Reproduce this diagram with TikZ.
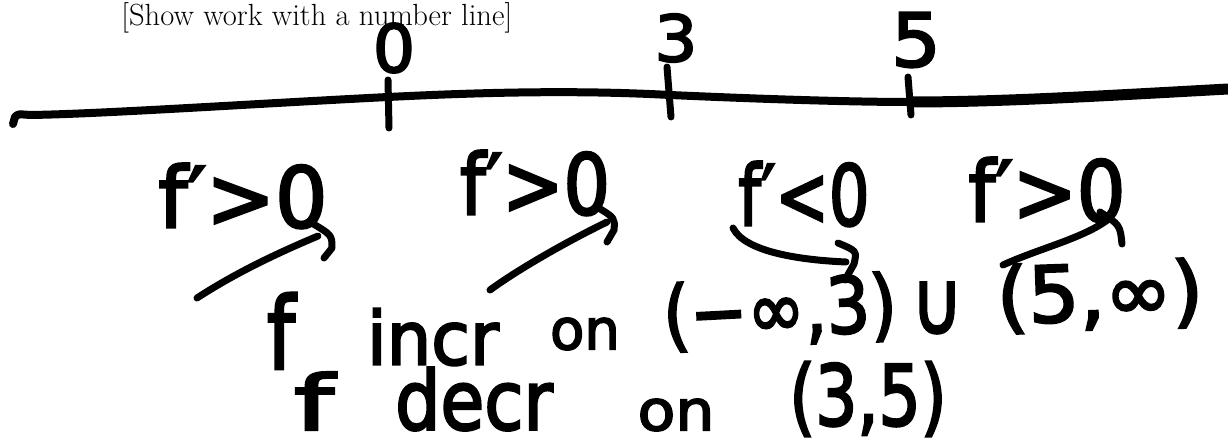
\documentclass[tikz,border=0pt]{standalone}
\usepackage{fontspec}
\newfontfamily\hand[FakeBold=3]{DejaVu Sans}
\newcommand{\hw}[3]{{\hand\fontsize{#1}{#1}\selectfont\scalebox{#2}[1]{#3}}}
\tikzset{
  ink/.style={line width=3.5pt, line cap=round, line join=round},
  axisline/.style={line width=4pt, line cap=round, line join=round},
  word/.style={inner sep=0pt},
  heading/.style={font=\fontsize{15.3}{17}\selectfont, inner sep=0pt}
}
\begin{document}
\begin{tikzpicture}[x=0.5pt,y=-0.5pt]
\useasboundingbox (0,0) rectangle (1228,444);

% heading
\node[heading, anchor=base west] (title) at (121,26) {[Show work with a number line]};

% the number line, a little heavier towards its right end
\draw[axisline] (13,124) -- (15,117) .. controls (18,114) .. (30,115)
  .. controls (100,114) and (250,104) .. (388,97)
  .. controls (450,94) and (560,89) .. (670,95)
  .. controls (760,99) and (850,102) .. (910,102);
\draw[axisline, line width=5.5pt] (910,102)
  .. controls (1000,102) and (1100,96) .. (1228,89);

% tick marks and their values
\coordinate (t0a) at (388,80); \coordinate (t0b) at (389,128);
\coordinate (t3a) at (667,67); \coordinate (t3b) at (671,117);
\coordinate (t5a) at (908,77); \coordinate (t5b) at (911,115);
\draw[ink] (t0a) -- (t0b);
\draw[ink] (t3a) -- (t3b);
\draw[ink] (t5a) -- (t5b);
\node[word] (n0) at (394,48) {\hw{33}{1}{0}};
\node[word] (n3) at (676,38) {\hw{32}{1.05}{3}};
\node[word] (n5) at (916,40) {\hw{37}{1.05}{5}};

% sign of the derivative on each interval
\node[word] (s1) at (243,196) {\hw{42}{0.98}{f′>0}};
\node[word] (s2) at (535,183) {\hw{42}{0.87}{f′>0}};
\node[word] (s3) at (804,194) {\hw{42}{0.76}{f′<0}};
\node[word] (s4) at (1047,190) {\hw{42}{0.91}{f′>0}};

% conclusions
\node[word] (f2) at (281,331) {\hw{50}{0.8}{f}};
\node[word] (incr) at (433,337) {\hw{37}{0.95}{incr}};
\node[word] (on2) at (585,334) {\hw{28}{1}{on}};
\node[word, rotate=3] (set2a) at (780,312) {\hw{39}{0.88}{(−∞,3)}};
\node[word] (cup) at (937,308) {\hw{44}{0.8}{∪}};
\node[word, rotate=2] (set2b) at (1100,296) {\hw{39}{1.03}{(5,∞)}};
\node[word] (f3) at (314,401) {\hw{38}{1.5}{f}};
\node[word] (decr) at (474,399) {\hw{41}{0.87}{decr}};
\node[word] (on3) at (676,415) {\hw{28}{1.1}{on}};
\node[word] (set3) at (868,399) {\hw{42}{0.79}{(3,5)}};

% arrows from each sign to the conclusion
\coordinate (a1s) at (197,298); \coordinate (a1e) at (318,236);
\coordinate (a2s) at (490,290); \coordinate (a2e) at (607,222);
\coordinate (a3s) at (733,228); \coordinate (a3e) at (846,262);
\coordinate (a4s) at (1003,265); \coordinate (a4e) at (1110,218);
\draw[ink] (a1s) .. controls (240,270) and (285,250) .. (a1e);
\draw[ink] (310,222) .. controls (332,235) .. (332,248) -- (324,258);
\draw[ink] (a2s) .. controls (520,268) and (570,240) .. (a2e);
\draw[ink] (597,207) .. controls (615,218) .. (614,230) -- (607,242);
\draw[ink] (a3s) .. controls (745,252) and (800,260) .. (a3e);
\draw[ink] (838,243) .. controls (857,251) .. (854,264) -- (845,280);
\draw[ink] (a4s) .. controls (1040,248) and (1085,238) .. (a4e);
\draw[ink] (1100,212) .. controls (1120,225) .. (1122,244);
\end{tikzpicture}
\end{document}
